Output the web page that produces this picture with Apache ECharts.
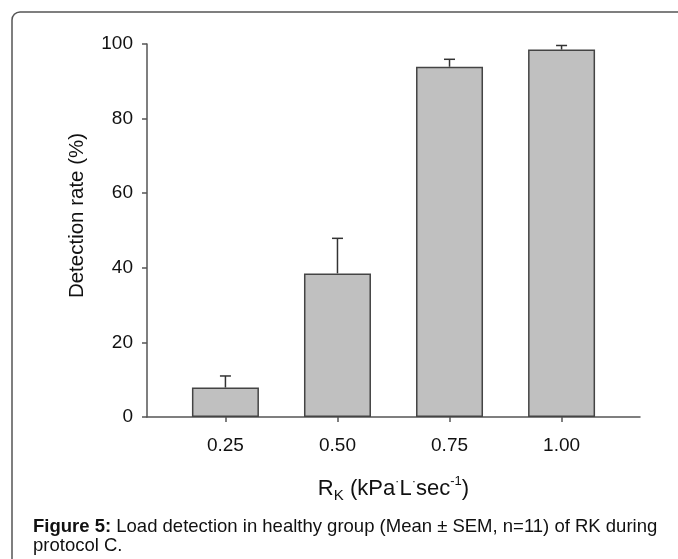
<!DOCTYPE html>
<html>
<head>
<meta charset="utf-8">
<script src="https://cdn.jsdelivr.net/npm/echarts@6/dist/echarts.min.js"></script>
<style>
  html, body { margin: 0; padding: 0; background: #fff; }
  #chart { width: 678px; height: 559px; }
</style>
</head>
<body>
<div id="chart"></div>
<script>
// resistance levels (kPa·L·sec-1)
var loads = [0.25, 0.50, 0.75, 1.00];
var tickLabels = ['0.25', '0.50', '0.75', '1.00'];
// mean detection rate (%)
var meanRate = [7.9, 38.5, 93.9, 98.5];
// mean + SEM (top of error bar)
var errTop = [11.0, 47.9, 95.9, 99.6];
var yTicks = [0, 20, 40, 60, 80, 100];

var font = 'Liberation Sans, Arial, sans-serif';

var barData = [];
var errData = [];
for (var i = 0; i < loads.length; i++) {
  barData.push([loads[i], meanRate[i]]);
  errData.push([loads[i], meanRate[i], errTop[i]]);
}

var chart = echarts.init(document.getElementById('chart'));
chart.setOption({
  animation: false,
  backgroundColor: '#fff',
  grid: { left: 147, right: 38, top: 44, bottom: 142 },
  xAxis: {
    type: 'value',
    min: 0.075,
    max: 1.175,
    splitLine: { show: false },
    axisLine: { lineStyle: { color: '#555', width: 1.5 } },
    axisTick: { show: true, customValues: loads, length: 5, lineStyle: { color: '#555', width: 1.5 } },
    axisLabel: {
      customValues: loads,
      margin: 19,
      fontSize: 19,
      color: '#111',
      fontFamily: font,
      formatter: function (v) {
        var idx = loads.indexOf(v);
        return idx >= 0 ? tickLabels[idx] : '';
      }
    },
    name: 'R{sub|K} (kPa{dot|·}L{dot|·}sec{sup|-1})',
    nameLocation: 'middle',
    nameGap: 58,
    nameTextStyle: {
      fontSize: 22,
      color: '#111',
      fontFamily: font,
      lineHeight: 28,
      rich: {
        sub: { fontSize: 15, fontFamily: font, color: '#111', verticalAlign: 'bottom', lineHeight: 28 },
        sup: { fontSize: 13, fontFamily: font, color: '#111', verticalAlign: 'top', lineHeight: 28 },
        dot: { fontSize: 13, fontFamily: font, color: '#111', verticalAlign: 'top', lineHeight: 28 }
      }
    }
  },
  yAxis: {
    type: 'value',
    min: 0,
    max: 100,
    interval: 20,
    splitLine: { show: false },
    axisLine: { show: true, lineStyle: { color: '#555', width: 1.5 } },
    axisTick: { show: true, length: 5, lineStyle: { color: '#555', width: 1.5 } },
    axisLabel: { margin: 14, fontSize: 19, color: '#111', fontFamily: font },
    name: 'Detection rate (%)',
    nameLocation: 'middle',
    nameGap: 59,
    nameTextStyle: { fontSize: 20.5, color: '#111', fontFamily: font, padding: [0, 0, 0, 30] }
  },
  series: [
    {
      type: 'bar',
      data: barData,
      barWidth: 67,
      itemStyle: { color: '#c0c0c0', borderColor: '#444', borderWidth: 1.5 },
      z: 2
    },
    {
      type: 'custom',
      data: errData,
      z: 3,
      renderItem: function (params, api) {
        var x = api.value(0);
        var base = api.coord([x, api.value(1)]);
        var top = api.coord([x, api.value(2)]);
        var style = { stroke: '#333', lineWidth: 1.5 };
        return {
          type: 'group',
          children: [
            { type: 'line', shape: { x1: base[0], y1: base[1], x2: top[0], y2: top[1] }, style: style },
            { type: 'line', shape: { x1: top[0] - 5.5, y1: top[1], x2: top[0] + 5.5, y2: top[1] }, style: style }
          ]
        };
      }
    }
  ],
  graphic: [
    {
      type: 'rect',
      shape: { x: 12, y: 12, width: 700, height: 600, r: [8, 0, 0, 0] },
      style: { fill: 'none', stroke: '#555', lineWidth: 1.5 },
      silent: true
    },
    {
      type: 'text',
      left: 33,
      top: 517,
      style: {
        text: '{b|Figure 5:} Load detection in healthy group (Mean ± SEM, n=11) of RK during\nprotocol C.',
        font: '18.5px ' + font,
        fill: '#111',
        lineHeight: 19,
        rich: {
          b: { fontWeight: 'bold', fontSize: 18.5, fontFamily: font, fill: '#111', lineHeight: 19 }
        }
      }
    }
  ]
});
</script>
</body>
</html>
